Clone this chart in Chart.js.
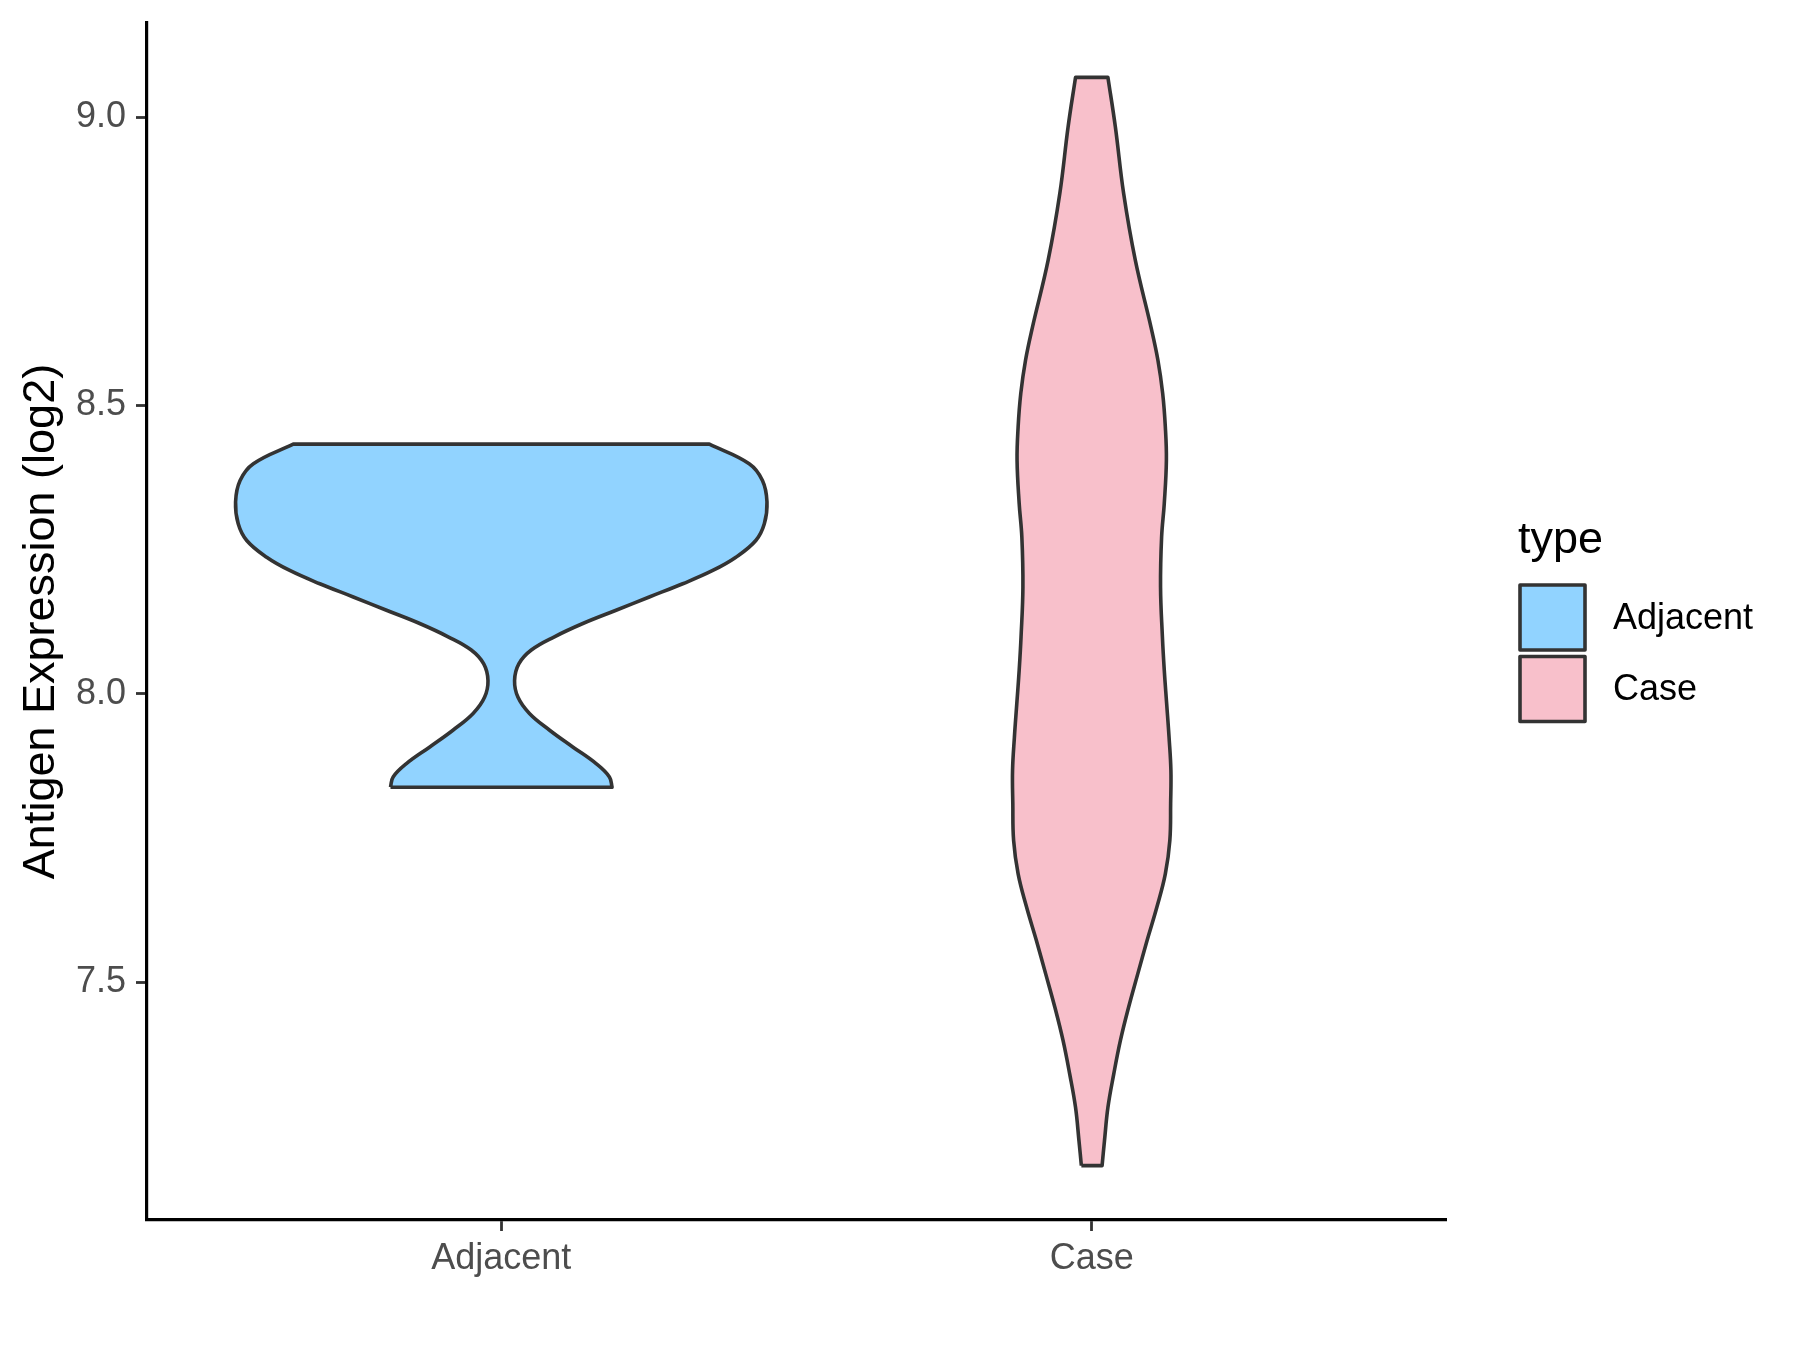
<!DOCTYPE html>
<html><head><meta charset="utf-8">
<script src="https://cdn.jsdelivr.net/npm/chart.js@4.4.1/dist/chart.umd.min.js"></script>
<style>html,body{margin:0;padding:0;background:#fff;}canvas{display:block;}</style>
</head><body>
<canvas id="c" width="1800" height="1350"></canvas>
<script>
// ---- data ----
const categories = ['Adjacent', 'Case'];
const yTicks = [7.5, 8.0, 8.5, 9.0];
// expression level (top to bottom) and relative violin width (1 = widest)
const adjacentValues  = [8.433, 8.399, 8.370, 8.333, 8.295, 8.266, 8.237, 8.214, 8.191, 8.168, 8.145, 8.122, 8.099, 8.076, 8.052, 8.023, 7.994, 7.966, 7.937, 7.908, 7.879, 7.856, 7.838];
const adjacentDensity = [0.783, 0.933, 0.983, 1.000, 0.990, 0.958, 0.883, 0.796, 0.683, 0.557, 0.432, 0.307, 0.200, 0.113, 0.066, 0.050, 0.063, 0.106, 0.182, 0.269, 0.357, 0.407, 0.417];
const caseValues  = [9.069, 8.983, 8.868, 8.752, 8.636, 8.579, 8.521, 8.463, 8.405, 8.330, 8.272, 8.185, 8.099, 8.041, 7.983, 7.925, 7.867, 7.810, 7.746, 7.688, 7.630, 7.572, 7.514, 7.457, 7.399, 7.341, 7.283, 7.225, 7.182];
const caseDensity = [0.061, 0.089, 0.120, 0.164, 0.223, 0.249, 0.267, 0.277, 0.281, 0.273, 0.263, 0.259, 0.266, 0.273, 0.282, 0.291, 0.298, 0.297, 0.294, 0.277, 0.245, 0.208, 0.173, 0.139, 0.108, 0.083, 0.061, 0.048, 0.039];
const fillColors = ['#91D3FF', '#F8C0CB'];
const yTitle = 'Antigen Expression (log2)';
const legendTitle = 'type';

// ---- build ----
const FONT = '"Liberation Sans", Arial, sans-serif';
const MAXHW = 0.45;
function violin(pos, vals, dens) {
  const n = vals.length;
  const L = i => ({x: pos - dens[i] * MAXHW, y: vals[i]});
  const R = i => ({x: pos + dens[i] * MAXHW, y: vals[i]});
  const pts = [];
  for (let i = n - 1; i >= 0; i--) pts.push(L(i));
  pts.push(L(0));               // sharp corner top-left
  pts.push(R(0)); pts.push(R(0)); // sharp corner top-right
  for (let i = 1; i < n; i++) pts.push(R(i));
  pts.push(R(n - 1));           // sharp corner bottom-right
  pts.push(L(n - 1));           // close
  return pts;
}
const allVals = adjacentValues.concat(caseValues);
const vmin = Math.min(...allVals), vmax = Math.max(...allVals);
const pad = (vmax - vmin) * 0.05;

const datasets = [
  [adjacentValues, adjacentDensity],
  [caseValues, caseDensity]
].map((d, i) => ({
  label: categories[i],
  data: violin(i + 1, d[0], d[1]),
  showLine: true,
  fill: 'shape',
  backgroundColor: fillColors[i],
  borderColor: '#333333',
  borderWidth: 3.6,
  pointRadius: 0,
  tension: 0.4,
  borderJoinStyle: 'round'
}));

const legendPlugin = {
  id: 'ggLegend',
  afterDraw(chart) {
    const ctx = chart.ctx;
    ctx.save();
    ctx.fillStyle = '#000';
    ctx.font = '45px ' + FONT;
    ctx.textBaseline = 'alphabetic';
    ctx.textAlign = 'left';
    ctx.fillText(legendTitle, 1518, 553);
    categories.forEach((c, i) => {
      const y = 585 + i * 71.5;
      ctx.fillStyle = fillColors[i];
      ctx.fillRect(1520, y, 65, 65);
      ctx.strokeStyle = '#333333';
      ctx.lineWidth = 3.6;
      ctx.lineJoin = 'round';
      ctx.strokeRect(1520, y, 65, 65);
      ctx.fillStyle = '#000';
      ctx.font = '36px ' + FONT;
      ctx.textBaseline = 'middle';
      ctx.fillText(c, 1613, y + 34);
    });
    ctx.restore();
  }
};

new Chart(document.getElementById('c'), {
  type: 'scatter',
  data: {datasets},
  plugins: [legendPlugin],
  options: {
    responsive: false,
    animation: false,
    layout: {padding: {left: 0, right: 354, top: 23, bottom: 0}},
    plugins: {legend: {display: false}, tooltip: {enabled: false}},
    scales: {
      x: {
        type: 'linear', min: 0.4, max: 2.6,
        afterBuildTicks: s => { s.ticks = [1, 2].map(v => ({value: v})); },
        ticks: {callback: v => categories[v - 1], font: {family: FONT, size: 36}, color: '#4D4D4D', padding: 6, maxRotation: 0, autoSkip: false},
        grid: {drawOnChartArea: false, drawTicks: true, tickLength: 11, tickWidth: 2.8, tickColor: '#333333'},
        border: {color: '#000', width: 3.2},
        afterFit: s => { s.height = 130; s.paddingLeft = 0; s.paddingRight = 0; }
      },
      y: {
        type: 'linear', min: vmin - pad, max: vmax + pad,
        afterBuildTicks: s => { s.ticks = yTicks.map(v => ({value: v})); },
        ticks: {callback: v => v.toFixed(1), font: {family: FONT, size: 36}, color: '#4D4D4D', padding: 10},
        grid: {drawOnChartArea: false, drawTicks: true, tickLength: 11, tickWidth: 2.8, tickColor: '#333333'},
        border: {color: '#000', width: 3.2},
        title: {display: true, text: yTitle, color: '#000', font: {family: FONT, size: 45, lineHeight: 1}, padding: {top: 19.5, bottom: 0}},
        afterFit: s => { s.width = 147; s.paddingTop = 0; s.paddingBottom = 0; }
      }
    }
  }
});
</script>
</body></html>
